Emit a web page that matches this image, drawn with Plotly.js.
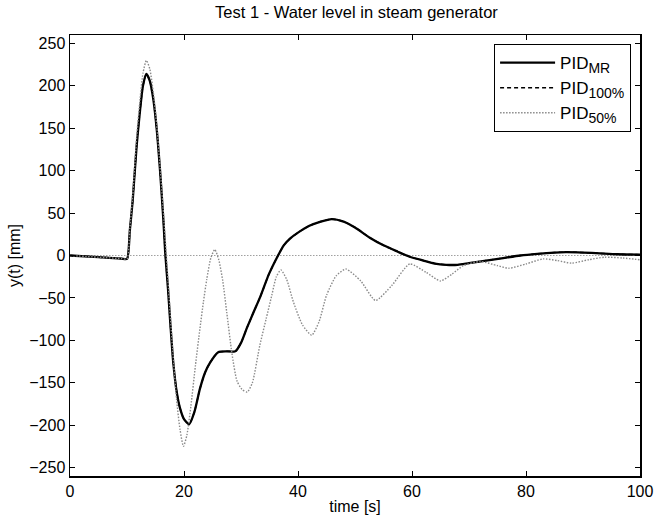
<!DOCTYPE html>
<html>
<head>
<meta charset="utf-8">
<script src="https://cdn.plot.ly/plotly-3.0.1.min.js"></script>
<style>html,body{margin:0;padding:0;background:#fff;}</style>
</head>
<body>
<div id="chart" style="width:654px;height:523px;"></div>
<script>
// PID_MR (PID_100% coincides with it)
const tMR = [0, 5, 9, 10, 10.5, 11, 11.7, 12.3, 12.8, 13.4, 14, 14.6, 15.2, 15.8, 16.4, 16.7, 17.2, 17.6, 18.1, 18.7, 19.3, 20, 20.9, 21.8, 22.8, 23.7, 24.6, 26, 27.5, 29, 30, 31, 32.2, 33.3, 34.9, 36.5, 37.5, 38.6, 40, 42, 44, 45.9, 48, 50, 52.6, 55, 57.5, 59.6, 62, 64, 66, 68, 70, 73, 76, 79, 82, 85, 87, 90, 93, 96, 100];
const yMR = [0, -2, -3.6, -4, 30, 65, 130, 172, 200, 214, 206, 185, 150, 100, 40, 4, -40, -80, -125, -160, -180, -193, -199, -185, -157, -138, -126, -114, -113, -113, -103, -86, -67, -50, -22, 0, 12, 20, 27, 35, 40, 43, 40, 33, 21, 12, 4.5, -1.5, -6, -9.5, -11, -11, -9, -6, -3, 0, 2, 3.5, 4, 3.5, 2.5, 1.5, 1];
// PID_50%
const t50 = [0, 5, 9, 10, 10.5, 11, 11.7, 12.3, 12.8, 13.4, 14, 14.6, 15.2, 15.8, 16.5, 17.2, 18, 18.7, 19.3, 19.9, 20.5, 21.2, 22, 22.8, 23.4, 24, 24.7, 25.4, 26.1, 26.8, 27.5, 28.4, 29.3, 30.2, 31.1, 32, 33.3, 34.4, 35.4, 36.2, 37, 38, 39.2, 40.8, 42.4, 43.7, 45, 46.7, 48.4, 51, 53.6, 56.5, 59.6, 62.5, 65, 67, 69, 72, 75, 77, 80, 83, 85.5, 88, 91, 93.8, 97, 100];
const y50 = [0, -2, -3.6, -4, 32, 70, 140, 185, 215, 230, 220, 193, 155, 105, 40, -30, -110, -170, -205, -225, -212, -178, -130, -86, -55, -28, -3, 7, -5, -30, -67, -115, -148, -158, -161, -150, -106, -75, -47, -25, -17, -28, -55, -82, -94, -78, -47, -24, -16, -30, -53, -35, -10, -20, -30, -22, -12, -7, -12, -15, -10, -4, -6, -9, -5, -2, -3, -5];
// reference (set-point) line
const tRef = [0, 100];
const yRef = [0, 0];
const xTicks = [0, 20, 40, 60, 80, 100];
const yTicks = [-250, -200, -150, -100, -50, 0, 50, 100, 150, 200, 250];

const sub = s => '<sub><span style="font-size:14px">' + s + '</span></sub>';
const traces = [
  {x: tRef, y: yRef, mode: 'lines', line: {color: '#a0a0a0', width: 1.2, dash: '1.5px,1.5px'}, showlegend: false, hoverinfo: 'skip'},
  {x: tMR, y: yMR, mode: 'lines', name: 'PID' + sub('MR'), line: {color: '#000', width: 2.3, shape: 'spline', smoothing: 0.6}},
  {x: tMR, y: yMR, mode: 'lines', name: 'PID' + sub('100%'), line: {color: '#000', width: 1.5, dash: '4px,3px', shape: 'spline', smoothing: 0.6}},
  {x: t50, y: y50, mode: 'lines', name: 'PID' + sub('50%'), line: {color: '#8a8a8a', width: 1.4, dash: '1.5px,1.5px', shape: 'spline', smoothing: 0.6}}
];

const fam = 'Liberation Sans, Arial, sans-serif';
const layout = {
  width: 654, height: 523,
  margin: {l: 70, r: 14, t: 35, b: 47},
  paper_bgcolor: '#fff', plot_bgcolor: '#fff',
  font: {family: fam, size: 16, color: '#000'},
  title: {text: 'Test 1 - Water level in steam generator', x: 0.545, xanchor: 'center', y: 0.977, yanchor: 'middle', font: {family: fam, size: 16.5, color: '#000'}},
  xaxis: {range: [0, 100], tickvals: xTicks, ticks: 'inside', ticklen: 5, tickcolor: '#000', showline: true, linecolor: '#000', linewidth: 1.5, mirror: 'ticks', showgrid: false, zeroline: false,
    title: {text: 'time [s]', standoff: 2, font: {family: fam, size: 16}}, tickfont: {family: fam, size: 16}},
  yaxis: {range: [-260, 260], tickvals: yTicks, ticks: 'inside', ticklen: 5, tickcolor: '#000', showline: true, linecolor: '#000', linewidth: 1.5, mirror: 'ticks', showgrid: false, zeroline: false,
    title: {text: 'y(t) [mm]', standoff: 4, font: {family: fam, size: 16}}, tickfont: {family: fam, size: 16}},
  legend: {x: 0.984, y: 0.98, xanchor: 'right', yanchor: 'top', bordercolor: '#000', borderwidth: 1.2, bgcolor: '#fff', font: {family: fam, size: 17, color: '#000'}, itemwidth: 55, tracegroupgap: 0},
  showlegend: true
};
Plotly.newPlot('chart', traces, layout, {displayModeBar: false, staticPlot: true});
</script>
</body>
</html>
